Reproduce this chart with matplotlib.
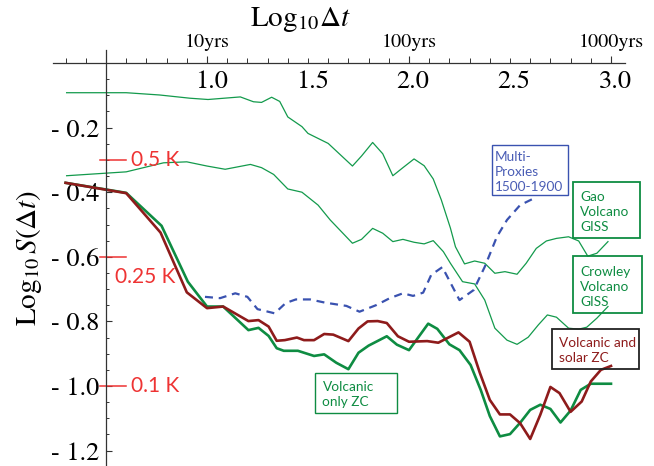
import matplotlib
matplotlib.use("Agg")
import matplotlib.pyplot as plt
from matplotlib.patches import Rectangle
from matplotlib.ticker import MultipleLocator, FixedLocator
import numpy as np

plt.rcParams['mathtext.fontset'] = 'stix'

# ---------------- data ----------------
gao_x = [0.305, 0.60, 0.765, 0.915, 1.005, 1.165, 1.23, 1.27, 1.32, 1.36, 1.40, 1.47, 1.50, 1.60, 1.72,
         1.765, 1.82, 1.87, 1.92, 1.97, 2.025, 2.075, 2.12, 2.16, 2.205, 2.23, 2.275, 2.325, 2.375, 2.425,
         2.475, 2.535, 2.58, 2.63, 2.68, 2.73, 2.79, 2.84, 2.885, 2.93, 2.985]
gao_y = [-0.092, -0.092, -0.099, -0.109, -0.113, -0.105, -0.120, -0.122, -0.106, -0.119, -0.167, -0.197,
         -0.218, -0.249, -0.319, -0.288, -0.246, -0.281, -0.349, -0.324, -0.297, -0.318, -0.359, -0.424,
         -0.511, -0.569, -0.622, -0.613, -0.620, -0.651, -0.646, -0.654, -0.620, -0.574, -0.551, -0.543,
         -0.538, -0.551, -0.598, -0.589, -0.553]

crowley_x = [0.305, 0.60, 0.785, 0.90, 1.0, 1.09, 1.215, 1.27, 1.33, 1.40, 1.47, 1.55, 1.61, 1.72, 1.765,
             1.82, 1.87, 1.92, 1.97, 2.025, 2.075, 2.12, 2.17, 2.205, 2.265, 2.325, 2.375, 2.425, 2.485,
             2.535, 2.59, 2.64, 2.685, 2.73, 2.79, 2.84, 2.88, 2.93, 2.985]
crowley_y = [-0.349, -0.337, -0.309, -0.306, -0.319, -0.329, -0.314, -0.324, -0.345, -0.390, -0.400,
             -0.440, -0.486, -0.558, -0.546, -0.512, -0.527, -0.553, -0.546, -0.555, -0.560, -0.550,
             -0.584, -0.620, -0.677, -0.684, -0.734, -0.821, -0.858, -0.871, -0.849, -0.811, -0.780,
             -0.787, -0.821, -0.824, -0.818, -0.790, -0.754]

volc_x = [0.30, 0.60, 0.775, 0.905, 1.0, 1.08, 1.205, 1.255, 1.305, 1.345, 1.38, 1.45, 1.53, 1.58, 1.64,
          1.70, 1.75, 1.80, 1.89, 1.94, 2.0, 2.095, 2.14, 2.20, 2.25, 2.305, 2.355, 2.40, 2.45, 2.50,
          2.55, 2.60, 2.65, 2.70, 2.75, 2.80, 2.85, 2.90, 3.0]
volc_y = [-0.371, -0.402, -0.504, -0.677, -0.754, -0.754, -0.827, -0.820, -0.845, -0.883, -0.891, -0.891,
          -0.907, -0.902, -0.928, -0.948, -0.897, -0.875, -0.846, -0.872, -0.889, -0.807, -0.823, -0.871,
          -0.889, -0.935, -1.012, -1.093, -1.156, -1.149, -1.114, -1.074, -1.058, -1.071, -1.113, -1.076,
          -1.012, -0.993, -0.993]

solar_x = [0.30, 0.60, 0.77, 0.90, 1.0, 1.08, 1.205, 1.255, 1.305, 1.345, 1.385, 1.445, 1.48, 1.53, 1.58,
           1.625, 1.70, 1.75, 1.795, 1.845, 1.89, 1.945, 2.0, 2.09, 2.145, 2.245, 2.30, 2.35, 2.40, 2.45,
           2.50, 2.55, 2.60, 2.65, 2.70, 2.745, 2.80, 2.855, 2.90, 2.95, 3.0]
solar_y = [-0.371, -0.403, -0.525, -0.710, -0.759, -0.754, -0.799, -0.796, -0.816, -0.860, -0.858, -0.850,
           -0.858, -0.858, -0.839, -0.841, -0.861, -0.822, -0.800, -0.799, -0.805, -0.846, -0.863, -0.861,
           -0.866, -0.834, -0.863, -0.958, -1.043, -1.088, -1.088, -1.115, -1.164, -1.089, -1.003, -1.022,
           -1.080, -1.048, -0.986, -0.950, -0.938]

proxy_x = [0.99, 1.065, 1.14, 1.20, 1.25, 1.335, 1.39, 1.44, 1.51, 1.585, 1.69, 1.755, 1.84, 1.905, 1.97,
           2.02, 2.07, 2.11, 2.165, 2.25, 2.32, 2.375, 2.435, 2.485, 2.55, 2.625]
proxy_y = [-0.724, -0.728, -0.713, -0.724, -0.762, -0.775, -0.743, -0.732, -0.732, -0.742, -0.752, -0.770,
           -0.749, -0.728, -0.713, -0.721, -0.711, -0.656, -0.632, -0.734, -0.703, -0.631, -0.538, -0.486,
           -0.440, -0.417]

x_major = [1.0, 1.5, 2.0, 2.5, 3.0]
x_major_labels = ["1.0", "1.5", "2.0", "2.5", "3.0"]
yrs_ticks = [1.0, 2.0, 3.0]
yrs_labels = ["10yrs", "100yrs", "1000yrs"]
y_major = [-0.2, -0.4, -0.6, -0.8, -1.0, -1.2]
y_major_labels = ["- 0.2", "- 0.4", "- 0.6", "- 0.8", "- 1.0", "- 1.2"]
kelvin_vals = [0.5, 0.25, 0.1]
kelvin_labels = ["0.5 K", "0.25 K", "0.1 K"]

# ---------------- colours ----------------
GREEN = "#0e8c42"
THIN_GREEN = "#139a4c"
DARKRED = "#8e1b1b"
BLUE = "#3a52b0"
RED = "#ee3333"

W, H = 654, 466
fig = plt.figure(figsize=(W / 100, H / 100), dpi=100)

xlim = (0.24, 3.07)
ylim = (-1.245, 0.0)
px_per_x = 202.0
px_per_y = 323.0
x0_px = 106 - (0.5 - xlim[0]) * px_per_x
x1_px = 106 + (xlim[1] - 0.5) * px_per_x
top_px = 63.0
bot_px = top_px + (ylim[1] - ylim[0]) * px_per_y
ax = fig.add_axes([x0_px / W, 1 - bot_px / H, (x1_px - x0_px) / W, (bot_px - top_px) / H])
ax.set_xlim(*xlim)
ax.set_ylim(*ylim)
ax.patch.set_alpha(0)

serif = 'STIXGeneral'

# spines
for s in ['bottom', 'right']:
    ax.spines[s].set_visible(False)
ax.spines['left'].set_position(('data', 0.5))
ax.spines['left'].set_bounds(ylim[0], 0.04)
ax.spines['top'].set_position(('data', 0.0))
for s in ['left', 'top']:
    ax.spines[s].set_linewidth(0.9)
    ax.spines[s].set_color('#333333')
    ax.spines[s].set_clip_on(False)

# x ticks (top): yrs labels above, numeric labels below
ax.xaxis.set_ticks_position('top')
ax.xaxis.set_major_locator(FixedLocator(yrs_ticks))
ax.set_xticklabels(yrs_labels, fontfamily=serif, fontsize=14.5)
ax.xaxis.set_minor_locator(FixedLocator(list(np.arange(0.3, 3.05, 0.1))))
ax.tick_params(axis='x', which='major', direction='out', length=5, width=0.8, pad=4,
               colors='#333333', labelcolor='black')
ax.tick_params(axis='x', which='minor', direction='out', length=3.5, width=0.7, colors='#333333')
for xv, lab in zip(x_major, x_major_labels):
    ax.annotate(lab, xy=(xv, 0), xytext=(3, -5), textcoords='offset points',
                ha='center', va='top', fontfamily=serif, fontsize=19, annotation_clip=False)

# y ticks
ax.set_yticks(y_major)
ax.set_yticklabels(y_major_labels, fontfamily=serif, fontsize=19)
ax.yaxis.set_minor_locator(MultipleLocator(0.05))
ax.tick_params(axis='y', which='major', direction='in', length=4, width=0.8, pad=5,
               colors='#333333', labelcolor='black')
ax.tick_params(axis='y', which='minor', direction='in', length=2.5, width=0.7, colors='#333333')

# curves
ax.plot(gao_x, gao_y, color=THIN_GREEN, lw=0.9, clip_on=False)
ax.plot(crowley_x, crowley_y, color=THIN_GREEN, lw=0.9, clip_on=False)
ax.plot(proxy_x, proxy_y, color=BLUE, lw=1.6, dashes=(3.6, 2.6), clip_on=False)
ax.plot(volc_x, volc_y, color=GREEN, lw=1.9, clip_on=False)
ax.plot(solar_x, solar_y, color=DARKRED, lw=1.9, clip_on=False)

# kelvin markers
kx0, kx1 = 0.47, 0.60
for kv, kl in zip(kelvin_vals, kelvin_labels):
    yv = np.log10(kv)
    ax.plot([kx0, kx1], [yv, yv], color=RED, lw=1.1, clip_on=False)
    if kl == "0.25 K":
        ax.text(0.545, yv - 0.06, kl, color=RED, fontsize=15, fontfamily='Lato', ha='left', va='center')
    else:
        ax.text(0.625, yv, kl, color=RED, fontsize=15, fontfamily='Lato', ha='left', va='center')

# annotation boxes
def box(x0, x1, y0, y1, edge, text, tx, ty, tcolor, lw=1.0):
    ax.add_patch(Rectangle((x0, y1), x1 - x0, y0 - y1, fill=False, edgecolor=edge, lw=lw,
                           clip_on=False, zorder=5))
    ax.text(tx, ty, text, color=tcolor, fontsize=9.8, fontfamily='Lato', ha='left', va='center',
            linespacing=1.3, clip_on=False, zorder=6)

def px2x(p):
    return 0.5 + (p - 106) / px_per_x

def py2y(p):
    return -(p - top_px) / px_per_y

box(px2x(491.7), px2x(568.3), py2y(145), py2y(195), BLUE, "Multi-\nProxies\n1500-1900",
    px2x(495), py2y(171.5), "#4a5db5", lw=1.0)
box(px2x(573.3), px2x(640), py2y(181.7), py2y(238.3), GREEN, "Gao\nVolcano\nGISS",
    px2x(580), py2y(211.5), GREEN, lw=1.3)
box(px2x(573.3), px2x(641.7), py2y(256), py2y(312.7), GREEN, "Crowley\nVolcano\nGISS",
    px2x(580), py2y(286.5), GREEN, lw=1.3)
box(px2x(552.3), px2x(639.3), py2y(329.3), py2y(369), "#222222", "Volcanic and\nsolar ZC",
    px2x(559), py2y(350.5), DARKRED, lw=1.3)
box(px2x(315), px2x(396.7), py2y(373.3), py2y(413.3), GREEN, "Volcanic\nonly ZC",
    px2x(322.5), py2y(394.5), GREEN, lw=1.0)

# axis titles
fig.text(300 / W, 1 - 20 / H, r"Log$_{10}\Delta t$", fontfamily=serif, fontsize=21,
         ha='center', va='center')
fig.text(29 / W, 1 - 258 / H, r"Log$_{10}\,S(\mathit{\Delta t})$", fontfamily=serif, fontsize=21,
         ha='center', va='center', rotation=90)

fig.savefig("out.png", dpi=100)
